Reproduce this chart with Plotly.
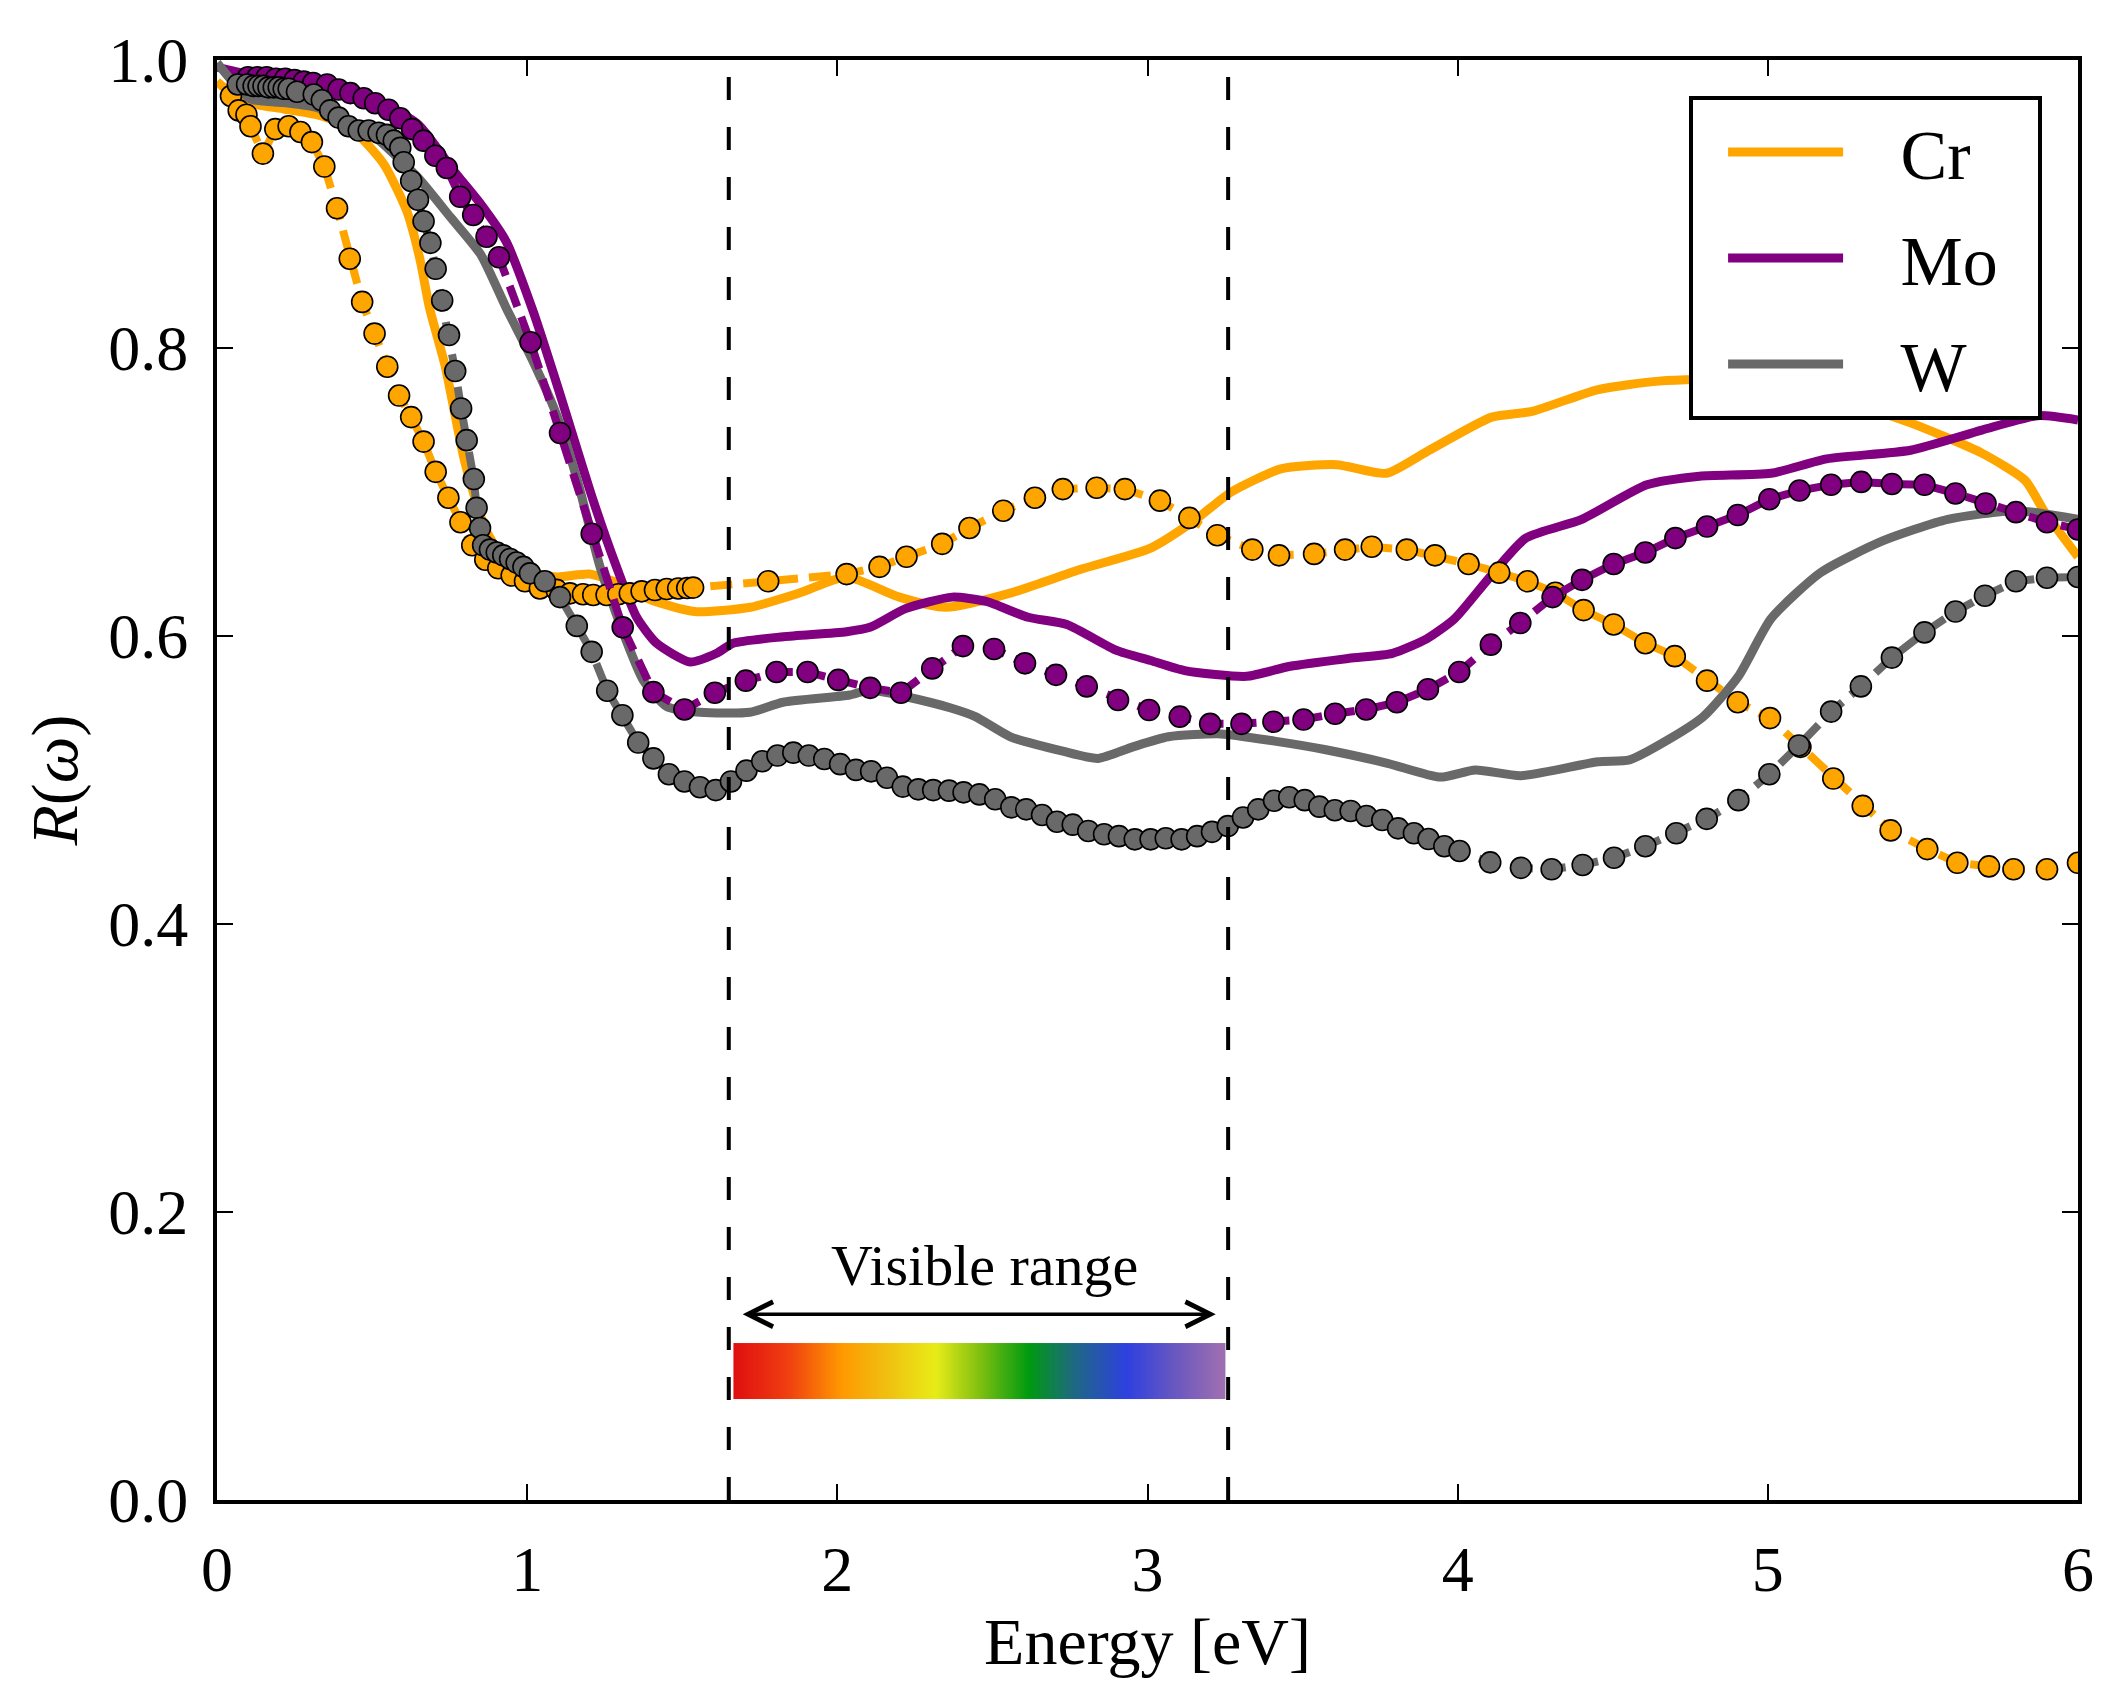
import numpy as np
import plotly.graph_objects as go

# ---------------- data ----------------
cr_calc_e = [0.00, 0.05, 0.107, 0.215, 0.322, 0.43, 0.537, 0.612, 0.655, 0.685, 0.735, 0.80, 0.866, 0.932,
             1.00, 1.096, 1.20, 1.29, 1.40, 1.54, 1.72, 1.88, 2.03, 2.20, 2.35, 2.56, 2.78, 3.01, 3.15, 3.27,
             3.43, 3.61, 3.77, 3.90, 4.11, 4.24, 4.45, 4.65, 4.90, 5.15, 5.46, 5.69, 5.83, 5.89, 6.00]
cr_calc_r = [0.985, 0.976, 0.970, 0.966, 0.962, 0.953, 0.928, 0.895, 0.861, 0.828, 0.788, 0.720, 0.674, 0.652,
             0.645, 0.641, 0.643, 0.637, 0.625, 0.617, 0.620, 0.630, 0.641, 0.627, 0.620, 0.630, 0.646, 0.661,
             0.680, 0.700, 0.716, 0.719, 0.713, 0.728, 0.752, 0.756, 0.771, 0.777, 0.778, 0.770, 0.748, 0.727,
             0.708, 0.687, 0.655]

mo_calc_e = [0.00, 0.10, 0.25, 0.40, 0.55, 0.65, 0.767, 0.85, 0.932, 1.02, 1.10, 1.213, 1.288, 1.353, 1.417,
             1.525, 1.611, 1.664, 1.826, 2.03, 2.105, 2.22, 2.37, 2.48, 2.615, 2.74, 2.90, 3.01, 3.12, 3.32,
             3.46, 3.65, 3.79, 3.90, 3.99, 4.10, 4.22, 4.40, 4.61, 4.78, 5.01, 5.19, 5.46, 5.69, 5.87, 6.00]
mo_calc_r = [0.995, 0.990, 0.986, 0.980, 0.968, 0.955, 0.922, 0.900, 0.874, 0.825, 0.772, 0.694, 0.648, 0.613,
             0.595, 0.582, 0.588, 0.595, 0.5995, 0.603, 0.606, 0.619, 0.627, 0.624, 0.613, 0.608, 0.590, 0.583,
             0.576, 0.572, 0.579, 0.5845, 0.588, 0.598, 0.612, 0.640, 0.668, 0.681, 0.705, 0.711, 0.713, 0.723,
             0.729, 0.743, 0.753, 0.750]

w_calc_e = [0.00, 0.107, 0.215, 0.322, 0.408, 0.50, 0.645, 0.752, 0.85, 0.932, 1.014, 1.096, 1.162, 1.235,
            1.31, 1.375, 1.45, 1.557, 1.718, 1.825, 2.04, 2.105, 2.218, 2.366, 2.445, 2.558, 2.727, 2.84, 2.953,
            3.067, 3.237, 3.41, 3.575, 3.774, 3.944, 4.057, 4.204, 4.452, 4.554, 4.679, 4.792, 4.905, 5.01,
            5.17, 5.37, 5.58, 5.80, 6.00]
w_calc_r = [0.998, 0.973, 0.9705, 0.967, 0.958, 0.948, 0.919, 0.891, 0.865, 0.828, 0.793, 0.753, 0.708, 0.648,
            0.602, 0.569, 0.551, 0.547, 0.547, 0.554, 0.559, 0.5625, 0.558, 0.550, 0.544, 0.530, 0.520, 0.515,
            0.523, 0.530, 0.532, 0.527, 0.521, 0.5116, 0.502, 0.507, 0.503, 0.5127, 0.514, 0.528, 0.544, 0.572,
            0.612, 0.644, 0.666, 0.681, 0.687, 0.681]

cr_exp_e = [0.045, 0.07, 0.095, 0.108, 0.148, 0.188, 0.231, 0.269, 0.306, 0.346, 0.387, 0.428, 0.468, 0.508,
            0.549, 0.587, 0.626, 0.666, 0.705, 0.746, 0.785, 0.823, 0.865, 0.907, 0.95, 0.993, 1.041, 1.095,
            1.138, 1.18, 1.213, 1.256, 1.294, 1.331, 1.369, 1.412, 1.45, 1.487, 1.516, 1.535, 1.777, 2.03,
            2.136, 2.223, 2.338, 2.426, 2.535, 2.637, 2.727, 2.836, 2.927, 3.04, 3.135, 3.225, 3.338, 3.424,
            3.537, 3.637, 3.723, 3.836, 3.927, 4.035, 4.134, 4.225, 4.315, 4.406, 4.503, 4.605, 4.70, 4.804,
            4.903, 5.007, 5.105, 5.211, 5.306, 5.396, 5.514, 5.611, 5.713, 5.792, 5.90, 6.00]
cr_exp_r = [0.975, 0.965, 0.962, 0.954, 0.935, 0.952, 0.954, 0.950, 0.943, 0.926, 0.897, 0.862, 0.832, 0.810,
            0.787, 0.767, 0.752, 0.735, 0.714, 0.696, 0.679, 0.663, 0.653, 0.647, 0.642, 0.638, 0.633, 0.632,
            0.6296, 0.629, 0.6285, 0.6285, 0.629, 0.6296, 0.631, 0.6319, 0.6326, 0.633, 0.6333, 0.6336, 0.638,
            0.643, 0.648, 0.655, 0.664, 0.675, 0.687, 0.696, 0.702, 0.703, 0.702, 0.694, 0.682, 0.670, 0.660,
            0.656, 0.657, 0.660, 0.662, 0.660, 0.656, 0.650, 0.644, 0.638, 0.630, 0.618, 0.608, 0.595, 0.586,
            0.569, 0.554, 0.543, 0.523, 0.501, 0.482, 0.465, 0.452, 0.4425, 0.440, 0.438, 0.438, 0.4425]

mo_exp_e = [0.10, 0.13, 0.16, 0.19, 0.22, 0.25, 0.28, 0.31, 0.355, 0.392, 0.43, 0.473, 0.51, 0.553, 0.591,
            0.629, 0.666, 0.704, 0.741, 0.784, 0.826, 0.869, 0.909, 1.011, 1.106, 1.208, 1.308, 1.407, 1.507,
            1.605, 1.705, 1.804, 1.904, 2.003, 2.106, 2.205, 2.306, 2.405, 2.505, 2.605, 2.705, 2.804, 2.905,
            3.005, 3.104, 3.202, 3.303, 3.406, 3.503, 3.605, 3.705, 3.804, 3.904, 4.005, 4.107, 4.202, 4.306,
            4.401, 4.503, 4.605, 4.702, 4.804, 4.903, 5.005, 5.102, 5.204, 5.301, 5.40, 5.505, 5.605, 5.702,
            5.80, 5.90, 6.00]
mo_exp_r = [0.988, 0.988, 0.988, 0.987, 0.987, 0.986, 0.985, 0.984, 0.983, 0.9795, 0.977, 0.9734, 0.970,
            0.9655, 0.9595, 0.952, 0.944, 0.9335, 0.925, 0.905, 0.8924, 0.8773, 0.863, 0.804, 0.741, 0.671,
            0.606, 0.561, 0.549, 0.5606, 0.569, 0.575, 0.575, 0.5695, 0.564, 0.5606, 0.5775, 0.593, 0.591,
            0.581, 0.573, 0.565, 0.5556, 0.5486, 0.544, 0.539, 0.539, 0.5405, 0.542, 0.546, 0.549, 0.554,
            0.563, 0.575, 0.594, 0.609, 0.627, 0.639, 0.650, 0.658, 0.668, 0.676, 0.684, 0.695, 0.701, 0.705,
            0.707, 0.7056, 0.705, 0.699, 0.692, 0.686, 0.679, 0.674]

w_exp_e = [0.067, 0.097, 0.118, 0.134, 0.150, 0.166, 0.183, 0.199, 0.215, 0.231, 0.258, 0.312, 0.338, 0.365,
           0.392, 0.424, 0.457, 0.489, 0.521, 0.548, 0.57, 0.591, 0.602, 0.626, 0.648, 0.666, 0.688, 0.705,
           0.726, 0.748, 0.768, 0.787, 0.805, 0.828, 0.837, 0.848, 0.858, 0.88, 0.902, 0.923, 0.945, 0.966,
           0.988, 1.009, 1.057, 1.106, 1.16, 1.208, 1.258, 1.307, 1.358, 1.407, 1.457, 1.507, 1.557, 1.608,
           1.657, 1.707, 1.758, 1.807, 1.858, 1.908, 1.958, 2.009, 2.06, 2.109, 2.16, 2.211, 2.261, 2.309,
           2.36, 2.407, 2.458, 2.509, 2.561, 2.609, 2.66, 2.708, 2.759, 2.809, 2.86, 2.908, 2.959, 3.01,
           3.059, 3.11, 3.16, 3.208, 3.259, 3.308, 3.357, 3.408, 3.457, 3.507, 3.554, 3.604, 3.655, 3.706,
           3.757, 3.808, 3.859, 3.906, 3.957, 4.006, 4.105, 4.204, 4.303, 4.403, 4.504, 4.605, 4.705, 4.803,
           4.905, 5.005, 5.10, 5.204, 5.30, 5.40, 5.505, 5.605, 5.70, 5.80, 5.90, 6.00]
w_exp_r = [0.983, 0.983, 0.982, 0.982, 0.982, 0.981, 0.981, 0.981, 0.980, 0.980, 0.978, 0.976, 0.972, 0.965,
           0.960, 0.954, 0.951, 0.951, 0.9495, 0.948, 0.944, 0.939, 0.929, 0.916, 0.903, 0.888, 0.873, 0.855,
           0.833, 0.809, 0.784, 0.758, 0.736, 0.709, 0.689, 0.675, 0.663, 0.660, 0.658, 0.656, 0.6535, 0.651,
           0.648, 0.6435, 0.638, 0.627, 0.607, 0.589, 0.562, 0.545, 0.526, 0.515, 0.504, 0.499, 0.495, 0.493,
           0.499, 0.5065, 0.513, 0.517, 0.519, 0.517, 0.5146, 0.511, 0.507, 0.506, 0.5016, 0.4954, 0.4935,
           0.493, 0.4926, 0.4914, 0.490, 0.4866, 0.481, 0.4796, 0.4757, 0.471, 0.469, 0.4646, 0.4623, 0.461,
           0.4588, 0.4588, 0.4595, 0.4588, 0.461, 0.464, 0.468, 0.474, 0.4796, 0.4856, 0.488, 0.486, 0.4815,
           0.479, 0.4785, 0.475, 0.4722, 0.4664, 0.463, 0.459, 0.454, 0.4507, 0.4428, 0.439, 0.438, 0.441,
           0.446, 0.454, 0.463, 0.473, 0.486, 0.504, 0.524, 0.5475, 0.565, 0.585, 0.6025, 0.617, 0.628, 0.638,
           0.6405, 0.641]

names = ["Cr", "Mo", "W"]
colors = ["#FFA500", "#800080", "#696969"]

visible_range = [1.65, 3.26]          # eV, dashed limits
spectrum_stops = [0.0, 0.11, 0.22, 0.31, 0.41, 0.50, 0.60, 0.69, 0.80, 0.90, 1.0]
spectrum_colors = ["#e01010", "#f04010", "#ff9a00", "#f0c010", "#e8ec18", "#80c010",
                   "#009a10", "#1e6a80", "#2e40e0", "#6a58c0", "#a070b0"]

# ---------------- figure ----------------
FONT = "Liberation Serif"
fig = go.Figure()

calc = [(cr_calc_e, cr_calc_r), (mo_calc_e, mo_calc_r), (w_calc_e, w_calc_r)]
exp = [(cr_exp_e, cr_exp_r), (mo_exp_e, mo_exp_r), (w_exp_e, w_exp_r)]

# spectrum bar
n_col = 240
x_edges = np.linspace(visible_range[0] + 0.015, visible_range[1] - 0.01, n_col + 1)
fig.add_trace(go.Heatmap(
    z=[list(np.linspace(0, 1, n_col))], x=x_edges, y=[0.070, 0.109],
    colorscale=[[s, c] for s, c in zip(spectrum_stops, spectrum_colors)],
    showscale=False, hoverinfo="skip", zsmooth="best", showlegend=False))

for (e, r), name, col in zip(calc, names, colors):
    fig.add_trace(go.Scatter(x=e, y=r, mode="lines", name="\u2002\u2005" + name + "\u2002",
                             legendgroup=name,
                             line=dict(color=col, width=9, shape="spline", smoothing=0.6)))

for (e, r), name, col in zip(exp, names, colors):
    fig.add_trace(go.Scatter(x=e, y=r, mode="lines+markers", name=name + " exp", showlegend=False,
                             line=dict(color=col, width=8, dash="22px,11px"),
                             marker=dict(color=col, size=21, line=dict(color="black", width=1.6))))

for v in visible_range:
    fig.add_trace(go.Scatter(x=[v, v], y=[0, 1], mode="lines", showlegend=False, hoverinfo="skip",
                             line=dict(color="black", width=4, dash="23px,27px")))

# arrow and label
fig.add_annotation(x=visible_range[1] - 0.04, y=0.129, ax=visible_range[0] + 0.04, ay=0.129,
                   xref="x", yref="y", axref="x", ayref="y", text="", showarrow=True,
                   arrowhead=5, startarrowhead=5, arrowside="end+start", arrowwidth=3.5,
                   arrowsize=1.4, startarrowsize=1.4, arrowcolor="black", standoff=0, startstandoff=0)
fig.add_annotation(x=(visible_range[0] + visible_range[1]) / 2 + 0.02, y=0.163, xref="x", yref="y",
                   text="Visible range", showarrow=False, font=dict(family=FONT, size=58, color="black"))

axis_common = dict(showline=True, linewidth=4, linecolor="black", mirror="allticks", ticks="inside",
                   ticklen=16, tickwidth=2, tickcolor="black", showgrid=False, zeroline=False,
                   tickfont=dict(family=FONT, size=64, color="black"))

fig.update_layout(
    width=2125, height=1699,
    margin=dict(l=217, r=47, t=60, b=199),
    paper_bgcolor="white", plot_bgcolor="white",
    xaxis=dict(range=[0, 6], dtick=1, tick0=0, ticklabelstandoff=10,
               title=dict(text="Energy [eV]", font=dict(family=FONT, size=66, color="black"), standoff=0),
               **axis_common),
    yaxis=dict(range=[0, 1], dtick=0.2, tick0=0, tickformat=".1f", ticklabelstandoff=12,
               title=dict(text="<i>R</i>(<i>ω</i>)", font=dict(family=FONT, size=66, color="black"), standoff=10),
               **axis_common),
    legend=dict(x=0.9807, xanchor="right", y=0.975, yanchor="top", bgcolor="white",
                bordercolor="black", borderwidth=4, font=dict(family=FONT, size=70, color="black"),
                itemwidth=115, tracegroupgap=12, indentation=30),
    showlegend=True,
)

fig.write_html("out.html")
